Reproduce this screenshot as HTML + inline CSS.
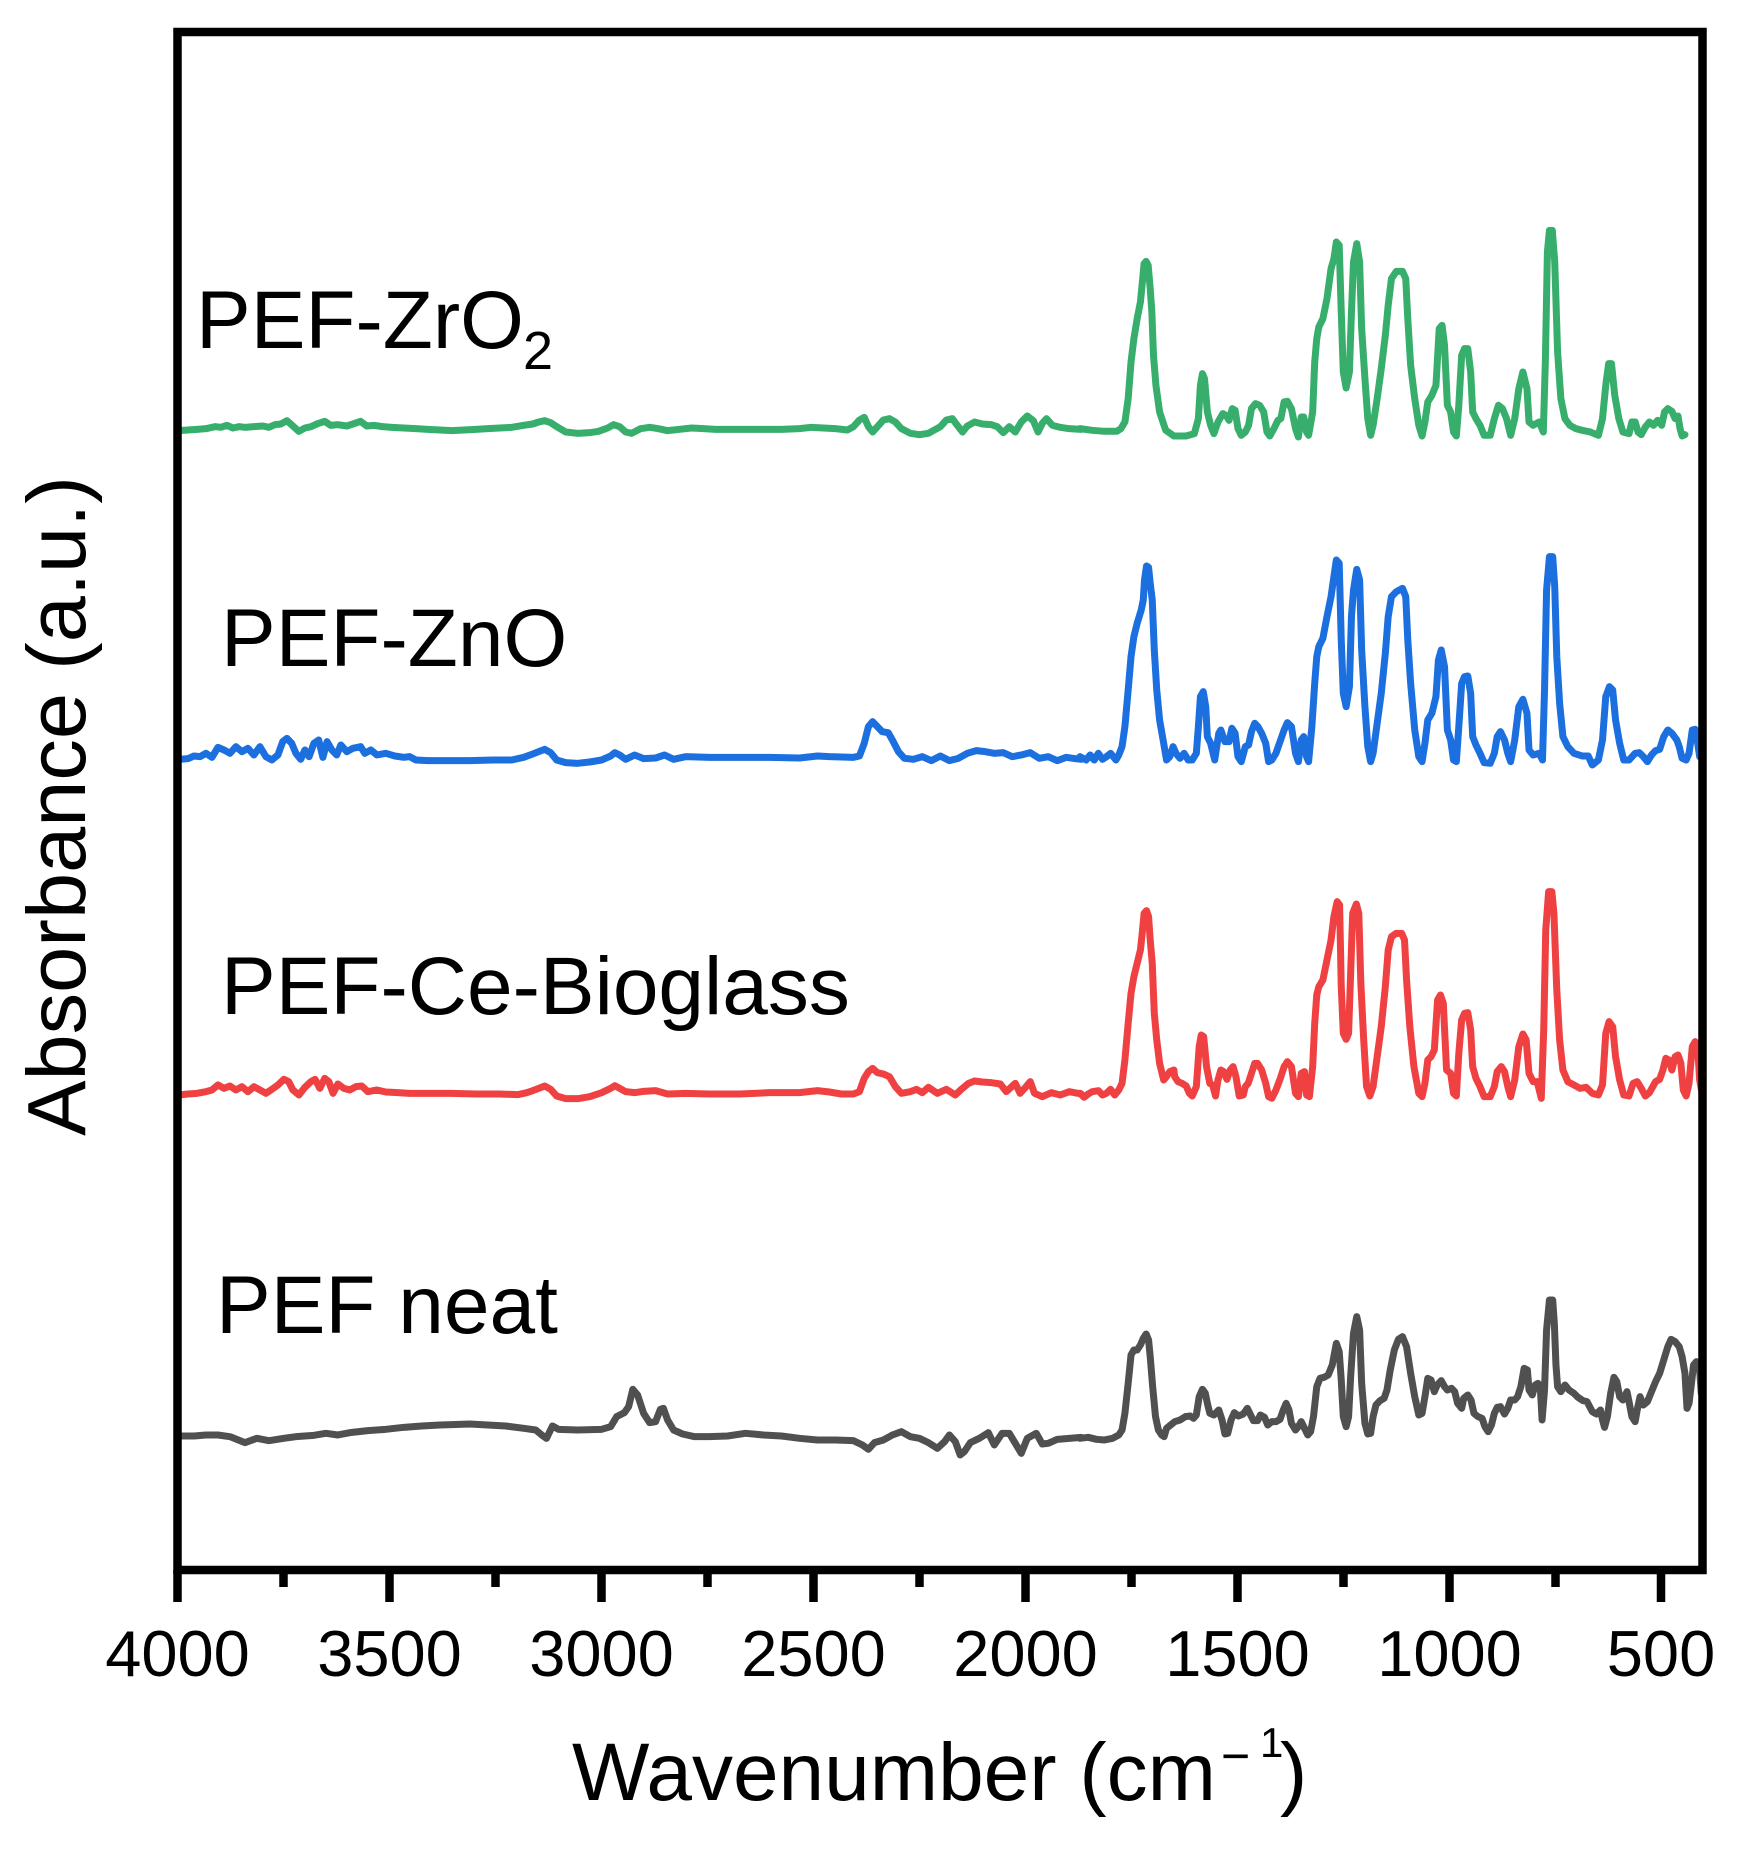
<!DOCTYPE html>
<html>
<head>
<meta charset="utf-8">
<style>
html,body{margin:0;padding:0;background:#fff;}
svg{display:block;}
text{font-family:"Liberation Sans",Arial,sans-serif;fill:#000;}
polyline{fill:none;stroke-width:7;stroke-linejoin:round;stroke-linecap:round;}
</style>
</head>
<body>
<svg width="1740" height="1849" viewBox="0 0 1740 1849" xmlns="http://www.w3.org/2000/svg">
<rect x="0" y="0" width="1740" height="1849" fill="#fff"/>

<!-- GRAY (PEF neat) -->
<g transform="translate(170,1370) scale(0.5995,0.3333)">
<polyline vector-effect="non-scaling-stroke" stroke="#505050" points="15,198 40,198 60,195 80,195 100,200 125,218 145,205 165,212 190,205 210,200 240,196 260,190 280,195 300,188 330,182 360,178 390,172 420,168 450,165 470,164 500,162 530,165 560,168 590,175 610,180 620,195 628,205 638,168 648,178 680,180 720,178 735,170 745,140 758,128 765,110 772,58 780,75 790,130 800,158 810,155 818,118 823,115 830,150 840,180 855,192 875,200 900,200 930,198 960,190 990,195 1020,198 1050,205 1080,210 1110,210 1140,212 1155,225 1165,238 1175,218 1190,210 1205,195 1220,185 1235,200 1250,205 1265,218 1280,235 1292,215 1300,195 1310,215 1318,255 1325,245 1335,218 1350,205 1365,188 1375,225 1388,190 1400,190 1410,220 1420,250 1430,205 1445,190 1455,222 1465,220 1480,208 1500,205 1520,202"/>
</g>
<g transform="translate(1080,1290) scale(0.4082,0.3333)">
<polyline vector-effect="non-scaling-stroke" stroke="#505050" points="0,445 20,442 40,448 60,450 80,445 95,435 103,420 110,370 118,280 125,195 132,180 140,180 148,165 155,145 162,132 168,150 172,200 178,290 185,380 192,420 200,435 206,440 212,415 222,405 232,395 245,390 258,380 270,378 278,385 285,375 292,320 300,298 307,310 312,340 318,370 328,375 340,360 348,390 355,432 362,430 370,390 378,368 388,378 400,372 410,355 418,375 425,392 435,392 442,375 452,382 460,405 470,395 480,395 490,388 498,360 505,340 512,360 518,400 528,420 535,410 542,395 550,415 558,435 565,425 572,380 580,290 588,265 598,262 608,255 618,225 628,160 635,185 640,270 645,380 652,410 658,380 663,260 670,130 678,80 685,120 690,280 698,400 705,432 712,430 718,380 725,345 735,332 745,325 752,300 760,240 770,180 780,148 790,140 800,170 810,250 820,320 830,375 838,370 845,320 852,265 860,270 868,305 875,285 885,272 893,290 900,300 910,295 918,305 925,340 935,355 940,325 950,315 958,330 965,370 975,380 985,385 992,410 1000,425 1008,405 1015,370 1022,352 1030,350 1040,372 1048,355 1055,330 1065,330 1072,320 1080,290 1088,235 1096,240 1100,300 1108,315 1115,285 1122,280 1128,300 1132,390 1138,300 1143,120 1150,30 1158,30 1162,100 1166,225 1170,290 1178,305 1188,285 1198,300 1210,310 1220,322 1232,332 1242,335 1255,365 1265,372 1275,360 1280,390 1285,412 1292,380 1300,310 1308,262 1315,275 1322,320 1330,330 1340,305 1345,335 1352,380 1360,395 1365,360 1372,320 1380,345 1390,335 1400,305 1410,275 1420,250 1430,210 1440,170 1448,148 1458,155 1468,170 1475,200 1482,250 1487,355 1492,340 1498,280 1503,225 1510,215 1518,240 1522,310"/>
</g>

<!-- RED (PEF-Ce-Bioglass) -->
<g transform="translate(170,1050) scale(0.5995,0.3333)">
<polyline vector-effect="non-scaling-stroke" stroke="#F04142" points="15,135 30,132 45,130 60,125 70,120 80,105 90,115 100,108 110,120 120,110 130,125 140,110 150,120 160,130 170,118 180,105 190,88 198,95 205,120 215,135 225,112 235,95 242,88 250,115 258,85 265,95 272,130 280,102 290,115 300,120 310,110 320,108 330,125 345,120 360,126 380,128 400,130 430,130 470,130 510,132 550,132 580,134 595,128 605,122 615,115 625,108 635,118 645,138 660,146 680,146 700,140 720,128 735,115 742,107 750,115 760,125 775,128 790,124 810,122 830,132 860,130 900,132 950,132 1000,128 1050,128 1080,122 1100,126 1120,132 1140,132 1150,125 1158,85 1165,65 1172,55 1180,68 1190,72 1200,80 1210,110 1220,130 1235,125 1245,118 1255,128 1265,112 1280,130 1295,118 1310,135 1320,118 1332,100 1342,93 1355,96 1370,98 1385,102 1395,125 1410,100 1418,130 1428,110 1435,95 1442,130 1455,140 1470,128 1485,135 1500,125 1520,132"/>
</g>
<g transform="translate(1080,880) scale(0.4082,0.3333)">
<polyline vector-effect="non-scaling-stroke" stroke="#F04142" points="0,640 10,652 20,642 30,635 45,632 55,645 65,640 75,628 85,645 95,630 103,610 110,540 118,430 125,340 132,290 140,250 148,210 152,165 157,100 163,92 168,110 172,180 177,250 182,400 188,480 195,550 205,600 212,590 220,575 230,570 232,590 240,605 250,610 260,618 268,640 275,648 285,620 292,500 297,465 303,470 310,560 318,610 325,615 332,648 338,600 345,570 352,575 360,598 368,570 375,560 382,590 390,648 400,645 405,620 412,610 420,580 428,550 435,550 445,570 455,610 462,650 470,655 480,630 490,598 500,560 508,545 518,560 528,640 535,650 542,580 550,575 555,645 562,650 570,560 575,430 580,345 585,320 595,300 605,240 615,180 622,110 630,65 636,75 640,320 645,460 652,478 658,460 663,280 668,100 677,72 683,100 688,310 695,480 702,620 710,648 718,620 728,530 738,440 748,320 755,210 763,170 775,160 788,160 795,180 800,300 808,440 818,560 830,640 838,650 845,610 852,540 860,530 868,510 876,360 883,345 890,370 898,570 908,580 915,640 922,648 928,520 935,420 942,400 950,398 957,450 962,560 970,595 980,620 990,650 1005,650 1015,620 1022,575 1032,560 1040,575 1048,620 1055,650 1065,600 1075,500 1085,462 1093,480 1100,580 1110,605 1120,605 1130,655 1136,450 1141,150 1148,35 1156,35 1161,100 1168,330 1175,480 1183,570 1195,605 1210,615 1225,625 1240,622 1255,640 1270,645 1280,615 1288,460 1296,425 1305,440 1312,530 1322,600 1332,645 1345,648 1355,610 1365,605 1375,625 1385,648 1395,638 1410,605 1420,598 1428,570 1435,535 1443,540 1450,570 1458,530 1465,525 1472,550 1478,630 1485,648 1492,610 1500,500 1507,485 1513,500 1518,600 1525,648"/>
</g>

<!-- BLUE (PEF-ZnO) -->
<g transform="translate(170,700) scale(0.5995,0.3333)">
<polyline vector-effect="non-scaling-stroke" stroke="#1B6FDE" points="15,178 30,176 40,168 50,170 60,160 70,172 80,142 90,150 100,160 110,140 120,155 130,145 140,165 150,140 160,170 170,180 180,165 188,125 195,115 203,130 210,160 218,178 225,150 232,170 240,130 248,120 255,172 262,125 270,150 278,165 285,135 295,155 305,145 318,140 325,160 335,150 345,165 360,160 375,168 390,172 400,170 410,180 430,182 460,182 500,182 540,180 570,180 590,172 605,162 615,155 625,148 635,158 645,180 660,188 680,190 700,186 720,180 735,168 742,158 750,165 760,178 775,165 790,176 810,174 825,165 840,178 860,170 900,172 960,172 1000,172 1050,174 1080,168 1100,170 1140,172 1150,168 1158,130 1165,80 1172,65 1180,80 1188,95 1198,98 1205,120 1215,155 1225,175 1240,178 1255,170 1270,182 1285,168 1300,182 1315,175 1330,160 1345,152 1360,155 1375,160 1390,158 1405,170 1420,165 1435,158 1450,175 1465,170 1480,182 1495,172 1510,176 1520,178"/>
</g>
<g transform="translate(1080,540) scale(0.4082,0.3333)">
<polyline vector-effect="non-scaling-stroke" stroke="#1B6FDE" points="0,650 15,660 25,645 35,660 45,640 55,658 65,650 75,640 88,660 95,645 103,620 110,560 118,450 125,350 132,290 140,250 150,210 155,180 158,120 163,78 168,82 172,130 177,180 182,330 188,450 195,540 205,610 212,660 220,650 228,620 235,640 245,655 255,640 265,660 275,660 285,640 290,560 295,470 302,455 308,500 312,590 320,610 330,660 340,580 345,570 355,605 365,605 372,565 380,580 387,650 395,665 405,620 413,615 420,575 428,550 436,560 445,580 455,610 462,665 470,660 480,640 490,605 500,570 508,548 518,560 528,640 535,665 542,600 548,590 555,650 560,665 568,560 575,430 580,350 585,320 595,295 605,230 615,170 622,110 628,60 635,70 640,300 645,460 652,500 660,440 665,230 670,150 678,88 685,120 690,330 698,500 705,620 712,665 718,640 728,550 738,460 748,340 755,230 763,170 775,155 790,145 798,170 803,300 810,430 820,570 830,650 838,665 845,610 852,540 862,520 872,470 878,360 885,330 893,380 900,570 908,600 915,660 922,665 928,560 935,430 942,410 950,408 957,460 962,590 970,615 980,640 990,668 1005,670 1015,640 1022,590 1030,575 1040,600 1048,640 1055,665 1065,600 1075,500 1085,478 1095,520 1100,630 1110,645 1125,640 1133,660 1138,450 1143,150 1150,50 1158,50 1163,140 1168,350 1175,490 1183,590 1195,620 1210,640 1230,648 1245,648 1255,675 1270,660 1280,600 1288,470 1297,440 1305,450 1312,540 1322,610 1332,660 1345,660 1360,640 1370,638 1380,650 1390,665 1400,645 1410,632 1420,628 1430,590 1440,570 1450,580 1462,600 1468,620 1475,655 1485,660 1492,640 1500,570 1507,568 1512,600 1518,650 1525,635"/>
</g>

<!-- GREEN (PEF-ZrO2) -->
<g transform="translate(170,400) scale(0.5995,0.3333)">
<polyline vector-effect="non-scaling-stroke" stroke="#37AE6C" points="15,92 30,90 45,88 60,86 75,80 85,82 95,76 105,84 115,80 125,82 140,80 155,78 165,82 175,74 185,72 195,62 205,78 215,94 225,84 235,80 245,72 258,64 268,76 280,74 295,78 305,72 318,64 328,78 340,76 355,80 370,82 390,84 410,86 430,88 450,90 470,92 490,90 510,88 530,86 550,84 570,82 590,76 605,72 615,66 625,62 635,68 645,80 660,96 680,100 700,98 715,94 730,84 740,74 750,80 760,96 770,100 785,86 800,82 815,86 830,92 850,88 870,84 890,86 910,88 930,88 960,88 990,88 1020,88 1050,86 1070,82 1090,84 1110,86 1130,90 1140,80 1150,60 1158,52 1165,80 1172,96 1180,80 1190,60 1200,56 1210,66 1220,86 1235,100 1250,104 1265,100 1275,90 1285,80 1295,60 1305,56 1315,80 1322,96 1330,78 1342,66 1355,72 1370,74 1380,80 1390,98 1400,80 1410,96 1420,66 1430,48 1440,62 1448,96 1455,70 1462,56 1472,76 1485,82 1500,86 1520,88"/>
</g>
<g transform="translate(1080,212) scale(0.4082,0.3333)">
<polyline vector-effect="non-scaling-stroke" stroke="#37AE6C" points="0,650 30,655 60,658 90,658 100,650 110,630 118,560 125,450 132,380 140,320 148,270 152,220 157,155 162,148 167,160 172,230 176,300 180,430 186,520 195,600 210,655 230,672 260,672 280,665 290,620 295,520 300,485 305,500 312,600 320,640 328,665 338,630 350,605 358,610 365,625 373,590 380,595 387,650 395,670 405,660 413,640 420,590 430,575 440,580 450,600 458,660 465,672 475,650 485,625 492,620 500,570 508,568 518,590 528,650 535,675 542,615 548,615 555,660 560,670 570,600 575,450 580,380 585,345 595,320 605,260 615,170 622,140 628,90 635,100 640,300 645,480 652,528 660,480 665,300 670,150 678,95 685,150 690,350 698,500 705,620 712,670 718,640 728,560 738,470 748,370 755,280 763,200 775,178 790,178 798,200 803,320 810,460 820,560 830,640 838,672 845,630 852,570 862,550 872,520 880,350 887,340 893,400 900,580 908,600 915,660 922,672 928,580 935,430 942,410 950,410 957,480 962,600 970,620 980,640 990,670 1005,670 1015,620 1025,580 1035,590 1045,620 1055,670 1065,620 1075,530 1085,480 1095,530 1100,630 1110,640 1125,630 1135,660 1140,450 1145,120 1150,55 1157,55 1163,150 1170,420 1178,560 1188,620 1200,640 1215,650 1230,655 1250,660 1270,670 1280,620 1288,520 1295,455 1302,455 1310,550 1320,620 1330,660 1345,665 1352,630 1360,630 1367,660 1375,668 1385,645 1395,630 1405,640 1415,625 1425,640 1432,600 1440,590 1450,598 1458,620 1465,612 1470,650 1475,672 1482,668"/>
</g>

<!-- Frame -->
<rect x="177.5" y="32" width="1525" height="1538" fill="none" stroke="#000" stroke-width="8.5"/>

<!-- Ticks -->
<g stroke="#000" stroke-width="8.5">
<line x1="177.5" y1="1570" x2="177.5" y2="1602"/>
<line x1="389.5" y1="1570" x2="389.5" y2="1602"/>
<line x1="601.5" y1="1570" x2="601.5" y2="1602"/>
<line x1="813.5" y1="1570" x2="813.5" y2="1602"/>
<line x1="1025.5" y1="1570" x2="1025.5" y2="1602"/>
<line x1="1237.5" y1="1570" x2="1237.5" y2="1602"/>
<line x1="1449.5" y1="1570" x2="1449.5" y2="1602"/>
<line x1="1661" y1="1570" x2="1661" y2="1602"/>
<line x1="283.5" y1="1570" x2="283.5" y2="1587"/>
<line x1="495.5" y1="1570" x2="495.5" y2="1587"/>
<line x1="707.5" y1="1570" x2="707.5" y2="1587"/>
<line x1="919.5" y1="1570" x2="919.5" y2="1587"/>
<line x1="1131.5" y1="1570" x2="1131.5" y2="1587"/>
<line x1="1343.5" y1="1570" x2="1343.5" y2="1587"/>
<line x1="1555.5" y1="1570" x2="1555.5" y2="1587"/>
</g>

<!-- Tick labels -->
<g font-size="65" text-anchor="middle">
<text x="177.5" y="1676">4000</text>
<text x="389.5" y="1676">3500</text>
<text x="601.5" y="1676">3000</text>
<text x="813.5" y="1676">2500</text>
<text x="1025.5" y="1676">2000</text>
<text x="1237.5" y="1676">1500</text>
<text x="1449.5" y="1676">1000</text>
<text x="1661" y="1676">500</text>
</g>

<!-- Axis titles -->
<text x="572" y="1800" font-size="82">Wavenumber (cm</text>
<text x="1221" y="1773" font-size="50">−</text>
<text x="1260" y="1757" font-size="42">1</text>
<text x="1280" y="1800" font-size="82">)</text>

<text transform="translate(85,806) rotate(-90)" x="0" y="0" font-size="83" text-anchor="middle">Absorbance (a.u.)</text>

<!-- Series labels -->
<text x="196" y="348" font-size="82">PEF-ZrO</text>
<text x="523" y="369" font-size="54">2</text>
<text x="221" y="666" font-size="82">PEF-ZnO</text>
<text x="221" y="1014" font-size="82">PEF-Ce-Bioglass</text>
<text x="216" y="1333" font-size="82">PEF neat</text>
</svg>
</body>
</html>
